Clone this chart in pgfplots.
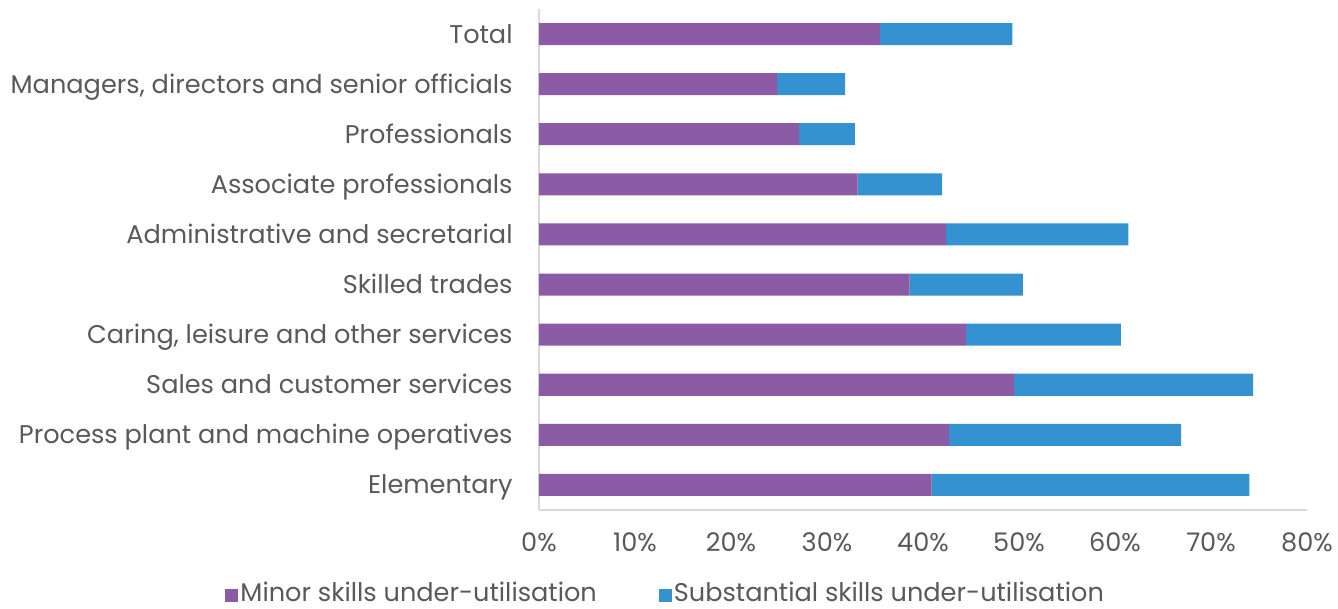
\documentclass[border=0pt]{standalone}
\usepackage{pgfplots}
\pgfplotsset{compat=1.18}
\usepackage{fontspec}
\setmainfont{Poppins}
\definecolor{cPurple}{HTML}{8C5BA5}
\definecolor{cBlue}{HTML}{3592D0}
\definecolor{cText}{HTML}{595959}
\definecolor{cAxis}{HTML}{D9D9D9}
\begin{document}
\begin{tikzpicture}[font=\fontsize{12.8pt}{15pt}\selectfont, text=cText]
\path[use as bounding box] (-269.5pt,-49.5pt) rectangle (399.5pt,255pt);
\begin{axis}[
  at={(0,0)}, anchor=south west,
  width=384pt, height=250.5pt, scale only axis,
  xbar stacked, bar width=11pt,
  xmin=0, xmax=80, ymin=-0.5, ymax=9.5,
  y dir=reverse,
  axis x line*=bottom, axis y line*=left,
  axis line style={cAxis, line width=1pt, -},
  major tick length=0pt,
  xtick={0,10,20,30,40,50,60,70,80},
  xticklabels={0\%,10\%,20\%,30\%,40\%,50\%,60\%,70\%,80\%},
  xticklabel style={anchor=north, inner sep=0pt, yshift=-11pt, text=cText},
  ytick={0,...,9},
  yticklabels={Total, {Managers, directors and senior officials}, Professionals~, Associate professionals, Administrative and secretarial, Skilled trades, {Caring, leisure and other services}, Sales and customer services, Process plant and machine operatives, Elementary},
  yticklabel style={anchor=east, inner sep=0pt, xshift=-13pt, yshift=-1.5pt, text=cText, text height=9pt, text depth=3pt},
  legend style={at={(0.165,-0.171)}, anchor=center, draw=none, fill=none, legend columns=2,
    /tikz/every even column/.append style={column sep=30pt}, text=cText,
    inner sep=0pt, nodes={inner sep=1pt, text height=9pt, text depth=3pt}},
  legend image code/.code={\fill[#1] (0pt,-3.25pt) rectangle (6.5pt,3.25pt);},
]
\addplot[fill=cPurple, draw=none] coordinates {
(35.5,0) (24.8,1) (27.1,2) (33.2,3) (42.4,4) (38.6,5) (44.5,6) (49.5,7) (42.7,8) (40.9,9)};
\addplot[fill=cBlue, draw=none] coordinates {
(13.8,0) (7.1,1) (5.8,2) (8.8,3) (19.0,4) (11.8,5) (16.1,6) (24.9,7) (24.2,8) (33.1,9)};
\legend{Minor skills under-utilisation, Substantial skills under-utilisation}
\end{axis}
\end{tikzpicture}
\end{document}
